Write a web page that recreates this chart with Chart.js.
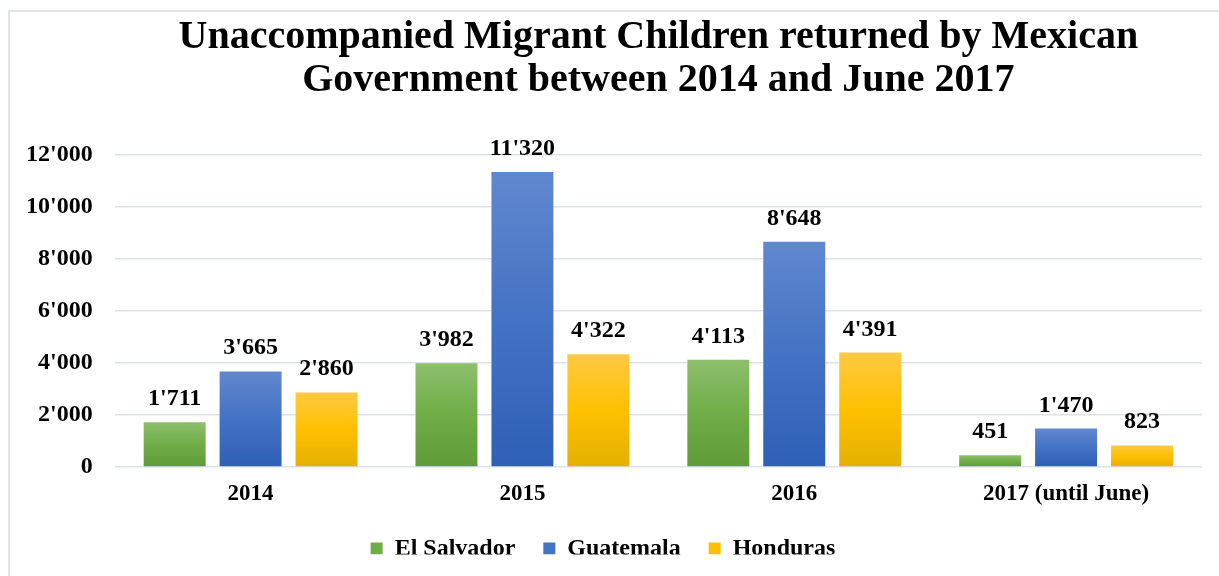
<!DOCTYPE html>
<html>
<head>
<meta charset="utf-8">
<script src="https://cdn.jsdelivr.net/npm/chart.js@4/dist/chart.umd.min.js"></script>
<style>
  html, body { margin: 0; padding: 0; background: #fff; overflow: hidden; }
  #wrap { position: relative; width: 1219px; height: 576px; overflow: hidden; }
  #frame { position: absolute; left: 8px; top: 10px; width: 1400px; height: 800px; border: 2px solid #e0e4ea; box-sizing: border-box; }
  canvas { position: absolute; left: 0; top: 0; }
</style>
</head>
<body>
<div id="wrap">
  <div id="frame"></div>
  <canvas id="c" width="1219" height="576"></canvas>
</div>
<script>
const titleLines = ["Unaccompanied Migrant Children returned by Mexican", "Government between 2014 and June 2017"];
const categories = ["2014", "2015", "2016", "2017 (until June)"];
const seriesNames = ["El Salvador", "Guatemala", "Honduras"];
const elSalvador = [1711, 3982, 4113, 451];
const guatemala = [3665, 11320, 8648, 1470];
const honduras = [2860, 4322, 4391, 823];
const yTicks = [0, 2000, 4000, 6000, 8000, 10000, 12000];

const palettes = [
  { top: "#8cbf6c", mid: "#70ad47", bot: "#5f9c38", solid: "#70ad47" },
  { top: "#6088cf", mid: "#4472c4", bot: "#2f5fb6", solid: "#4472c4" },
  { top: "#ffc943", mid: "#ffc000", bot: "#e4b000", solid: "#ffc000" }
];

const FONT = "'Liberation Serif', 'Times New Roman', serif";
const fmt = v => String(v).replace(/\B(?=(\d{3})+(?!\d))/g, "'");

function barGradient(p) {
  return function (ctx) {
    const chart = ctx.chart;
    if (ctx.type !== 'data' || !chart.chartArea || !chart.scales.y) return p.solid;
    const y = chart.scales.y;
    const topPx = y.getPixelForValue(ctx.raw);
    const basePx = y.getPixelForValue(0);
    if (!isFinite(topPx) || !isFinite(basePx) || basePx - topPx < 1) return p.solid;
    const g = chart.ctx.createLinearGradient(0, topPx, 0, basePx);
    g.addColorStop(0, p.top);
    g.addColorStop(0.5, p.mid);
    g.addColorStop(1, p.bot);
    return g;
  };
}

const valueLabels = {
  id: 'valueLabels',
  afterDatasetsDraw(chart) {
    const ctx = chart.ctx;
    ctx.save();
    ctx.font = "bold 24px " + FONT;
    ctx.fillStyle = "#000";
    ctx.textAlign = "center";
    ctx.textBaseline = "alphabetic";
    chart.data.datasets.forEach((ds, i) => {
      const meta = chart.getDatasetMeta(i);
      meta.data.forEach((el, j) => {
        ctx.fillText(fmt(ds.data[j]), el.x, el.y - 17);
      });
    });
    ctx.restore();
  }
};

const seriesData = [elSalvador, guatemala, honduras];

new Chart(document.getElementById('c'), {
  type: 'bar',
  data: {
    labels: categories,
    datasets: seriesNames.map((name, i) => ({
      label: name,
      data: seriesData[i],
      backgroundColor: barGradient(palettes[i]),
      borderWidth: 0,
      categoryPercentage: 0.838,
      barPercentage: 0.816
    }))
  },
  options: {
    responsive: false,
    animation: false,
    devicePixelRatio: 1,
    layout: { padding: { left: 4, right: 17, top: 0, bottom: 21.5 } },
    plugins: {
      title: {
        display: true,
        text: titleLines,
        fullSize: false,
        color: "#000",
        font: { family: FONT, size: 40, weight: 'bold', lineHeight: 1.08 },
        padding: { top: 16, bottom: 52 }
      },
      legend: {
        position: 'bottom',
        maxHeight: 46,
        labels: {
          color: "#000",
          font: { family: FONT, size: 24, weight: 'bold' },
          boxWidth: 12,
          boxHeight: 12,
          padding: 28,
          generateLabels(chart) {
            return chart.data.datasets.map((ds, i) => ({
              text: ds.label,
              fillStyle: palettes[i].solid,
              strokeStyle: palettes[i].solid,
              lineWidth: 0,
              datasetIndex: i,
              hidden: false
            }));
          }
        }
      },
      tooltip: { enabled: false }
    },
    scales: {
      x: {
        grid: { display: false },
        border: { display: false },
        ticks: { color: "#000", font: { family: FONT, size: 23, weight: 'bold' }, padding: 5, maxRotation: 0 },
        afterFit(scale) { scale.height -= 4; }
      },
      y: {
        min: 0,
        max: 12000,
        afterBuildTicks(scale) { scale.ticks = yTicks.map(v => ({ value: v })); },
        grid: { color: "#dde1e8", lineWidth: 1.5, drawTicks: false },
        border: { display: false },
        ticks: { color: "#000", font: { family: FONT, size: 24, weight: 'bold' }, padding: 22, callback: v => fmt(v) }
      }
    }
  },
  plugins: [valueLabels]
});
</script>
</body>
</html>
